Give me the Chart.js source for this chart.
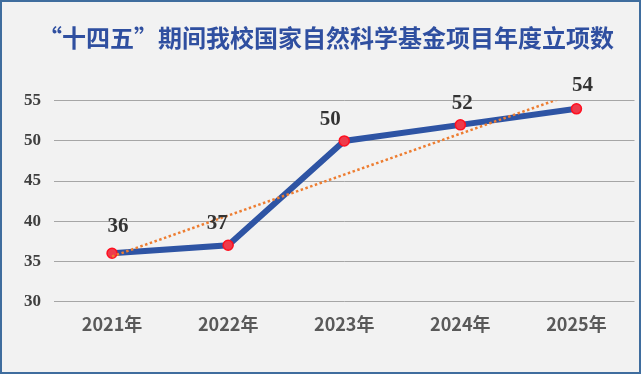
<!DOCTYPE html>
<html>
<head>
<meta charset="utf-8">
<script src="https://cdn.jsdelivr.net/npm/chart.js@4"></script>
<style>
  html, body { margin: 0; padding: 0; background: #fff; }
  .box { position: relative; width: 641px; height: 374px; background: #f2f2f2; }
  .box::after {
    content: ''; position: absolute; inset: 0;
    border: 2px solid #3f6d9e; pointer-events: none;
  }
  canvas { display: block; }
</style>
</head>
<body>
<div class="box"><canvas id="nsfcChart" width="641" height="374"></canvas></div>
<script>
const years = ['2021年', '2022年', '2023年', '2024年', '2025年'];
const projects = [36, 37, 50, 52, 54];
const trend = [35.6, 40.7, 45.8, 50.9, 56.0];
const yTicks = [30, 35, 40, 45, 50, 55];

// nudges for the value labels, like the hand-moved labels in the original
const labelShift = [[6, -27], [-11, -22], [-14, -21], [2, -21], [6, -23]];

const valueLabels = {
  id: 'valueLabels',
  afterDatasetsDraw(chart) {
    const meta = chart.getDatasetMeta(1);
    const c = chart.ctx;
    c.save();
    c.font = 'bold 21px "Liberation Serif", "Times New Roman", serif';
    c.fillStyle = '#333333';
    c.textAlign = 'center';
    c.textBaseline = 'middle';
    meta.data.forEach((pt, i) => {
      c.fillText(String(projects[i]), pt.x + labelShift[i][0], pt.y + labelShift[i][1]);
    });
    c.restore();
  }
};

const ctx = document.getElementById('nsfcChart').getContext('2d');
const nsfcChart = new Chart(ctx, {
  type: 'line',
  data: {
    labels: years,
    datasets: [{
      label: '趋势',
      data: trend,
      borderColor: '#ed7d31',
      borderWidth: 2.5,
      borderDash: [2.5, 2.5],
      pointRadius: 0,
      fill: false,
      tension: 0
    }, {
      label: '立项数',
      data: projects,
      borderColor: '#2e54a4',
      borderWidth: 6,
      pointRadius: 5,
      pointBorderWidth: 1.5,
      pointBackgroundColor: '#ee3b4b',
      pointBorderColor: '#ff1020',
      fill: false,
      tension: 0
    }]
  },
  options: {
    responsive: false,
    animation: false,
    layout: { padding: { left: 11, right: 0, top: 0, bottom: 27 } },
    plugins: {
      legend: { display: false },
      tooltip: { enabled: false },
      title: {
        display: true,
        text: '“十四五”期间我校国家自然科学基金项目年度立项数',
        color: '#2f4fa0',
        font: { family: '"Noto Sans CJK SC", sans-serif', size: 24, weight: 'bold' },
        padding: { top: 23, bottom: 49 }
      }
    },
    scales: {
      x: {
        offset: true,
        grid: { display: false, drawTicks: false },
        border: { display: false },
        ticks: {
          color: '#595959',
          padding: 12,
          font: { family: '"Noto Sans CJK SC", sans-serif', size: 18, weight: 'bold' }
        }
      },
      y: {
        min: 30,
        max: 55,
        afterBuildTicks: axis => { axis.ticks = yTicks.map(v => ({ value: v })); },
        grid: { color: '#a6a6a6', lineWidth: 1, drawTicks: false },
        border: { display: false },
        ticks: {
          color: '#404040',
          padding: 13,
          font: { family: '"Liberation Serif", "Times New Roman", serif', size: 17, weight: 'bold' }
        }
      }
    }
  },
  plugins: [valueLabels]
});
</script>
</body>
</html>
